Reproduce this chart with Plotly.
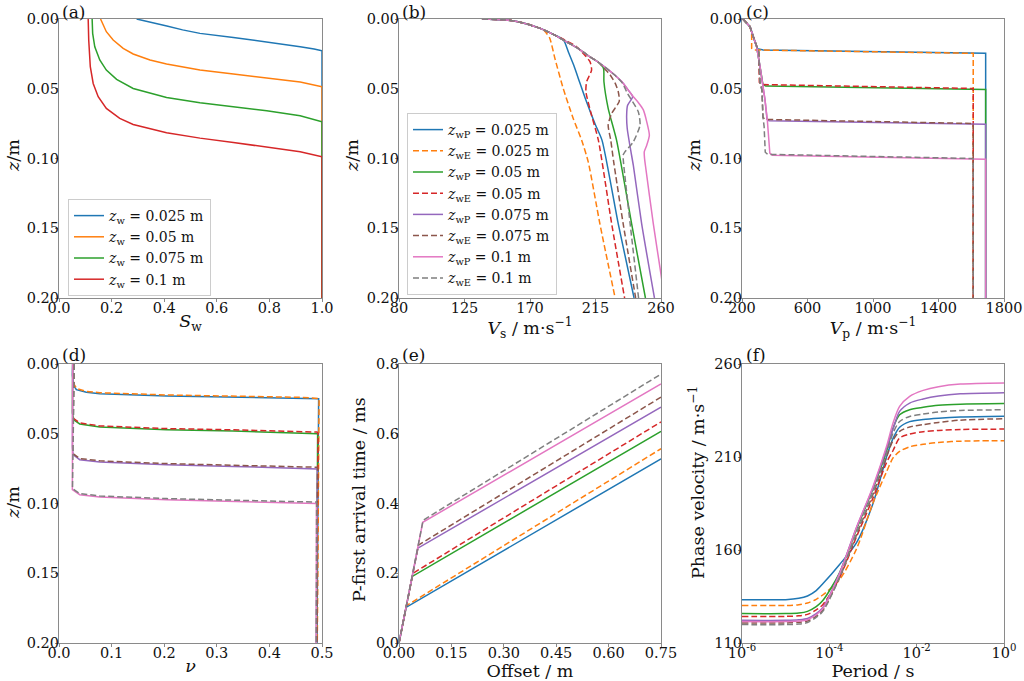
import plotly.graph_objects as go
from plotly.subplots import make_subplots

# ---- data ----
zw_labels = ['0.025', '0.05', '0.075', '0.1']

# (a) saturation profiles
a_sw_025 = [0.295, 0.35, 0.41, 0.47, 0.536, 0.663, 0.79, 0.917, 0.97, 1.0, 1.0]
a_z_025 = [0.0, 0.0022, 0.005, 0.0078, 0.0103, 0.0132, 0.0163, 0.0199, 0.0215, 0.0227, 0.2]
a_sw_050 = [0.158, 0.168, 0.18, 0.206, 0.244, 0.282, 0.346, 0.409, 0.536, 0.663, 0.79, 0.917, 1.0, 1.0]
a_z_050 = [0.0, 0.0043, 0.0091, 0.0151, 0.0211, 0.0251, 0.0294, 0.0323, 0.0366, 0.0395, 0.0421, 0.0452, 0.0486, 0.2]
a_sw_075 = [0.126, 0.128, 0.136, 0.155, 0.18, 0.219, 0.282, 0.409, 0.536, 0.663, 0.79, 0.917, 1.0, 1.0]
a_z_075 = [0.0, 0.0103, 0.0199, 0.0294, 0.0366, 0.0433, 0.0498, 0.0562, 0.06, 0.0629, 0.0658, 0.0694, 0.0737, 0.2]
a_sw_100 = [0.111, 0.113, 0.119, 0.13, 0.149, 0.18, 0.231, 0.282, 0.409, 0.536, 0.663, 0.79, 0.917, 1.0, 1.0]
a_z_100 = [0.0, 0.0151, 0.0342, 0.0462, 0.0557, 0.0641, 0.0713, 0.0756, 0.0816, 0.0854, 0.0885, 0.0916, 0.0952, 0.0988, 0.2]

# (b) Vs profiles
b_z_p025 = [0, 0.0005, 0.0012, 0.003, 0.0067, 0.011, 0.015, 0.024, 0.033, 0.045, 0.057, 0.076, 0.087, 0.1467, 0.2]
b_v_p025 = [137, 150, 158, 166, 177, 186, 193, 196.5, 200, 204, 208, 215, 219.5, 230.6, 241.5]
b_z_e025 = [0, 0.0005, 0.0012, 0.003, 0.0067, 0.0085, 0.0139, 0.0282, 0.0497, 0.0713, 0.0869, 0.1024, 0.1467, 0.2]
b_v_e025 = [137, 150, 158, 166, 177, 180, 183.6, 187.1, 192.8, 199.7, 205.5, 210, 218, 228.5]
b_z_p050 = [0, 0.0005, 0.0012, 0.003, 0.0067, 0.011, 0.0163, 0.021, 0.027, 0.031, 0.0354, 0.045, 0.064, 0.087, 0.1467, 0.2]
b_v_p050 = [137, 150, 158, 166, 177, 186, 195, 203, 211, 217, 220.5, 220.8, 223.7, 229.5, 239.8, 249.3]
b_z_e050 = [0, 0.0005, 0.0012, 0.003, 0.0067, 0.011, 0.0151, 0.0199, 0.0306, 0.0366, 0.045, 0.052, 0.069, 0.087, 0.1467, 0.2]
b_v_e050 = [137, 150, 158, 166, 177, 186, 194, 202, 211.2, 212.3, 208.9, 208.4, 212.3, 217, 226.1, 235]
b_z_p075 = [0, 0.0005, 0.0012, 0.003, 0.0067, 0.011, 0.0163, 0.021, 0.027, 0.031, 0.0354, 0.040, 0.046, 0.051,
            0.0557, 0.062, 0.069, 0.0785, 0.093, 0.105, 0.1467, 0.2]
b_v_p075 = [137, 150, 158, 166, 177, 186, 195, 203, 211, 217, 222.6, 228, 234, 237.5,
            240.5, 237, 236.4, 236.8, 239, 241, 246.7, 255.5]
b_z_e075 = [0, 0.0005, 0.0012, 0.003, 0.0067, 0.011, 0.0163, 0.021, 0.027, 0.031, 0.036, 0.040, 0.046, 0.052,
            0.059, 0.0677, 0.076, 0.087, 0.1024, 0.1467, 0.2]
b_v_e075 = [137, 150, 158, 166, 177, 186, 195, 203, 211, 217, 221.5, 225, 228.5, 230.6,
            231.3, 226.1, 223.7, 225.5, 227.5, 234, 242.6]
b_z_p100 = [0, 0.0005, 0.0012, 0.003, 0.0067, 0.011, 0.0163, 0.021, 0.027, 0.031, 0.0354, 0.040, 0.046, 0.051,
            0.0557, 0.060, 0.065, 0.0737, 0.0833, 0.0905, 0.0952, 0.1, 0.105, 0.1467, 0.183, 0.2]
b_v_p100 = [137, 150, 158, 166, 177, 186, 195, 203, 211, 217, 222.6, 228, 234, 237.5,
            241, 244.5, 247.8, 250.2, 252, 250.2, 248.5, 248.7, 249.3, 254.7, 260, 262.3]
b_z_e100 = [0, 0.0005, 0.0012, 0.003, 0.0067, 0.011, 0.0163, 0.021, 0.027, 0.031, 0.0354, 0.040, 0.046,
            0.0534, 0.0665, 0.076, 0.088, 0.0952, 0.0976, 0.1024, 0.1467, 0.2]
b_v_e100 = [137, 150, 158, 166, 177, 186, 195, 203, 211, 217, 222.6, 228, 233.5,
            237, 244.4, 245.6, 241, 235.2, 234, 234.2, 238.8, 244.6]

# (c) Vp profiles
c_z_p025 = [0, 0.0055, 0.0127, 0.0199, 0.0213, 0.0222, 0.0246, 0.2]
c_v_p025 = [205, 249, 269, 289.6, 294, 330, 1688, 1688]
c_z_e025 = [0, 0.0055, 0.0110, 0.0210, 0.0222, 0.0246, 0.2]
c_v_e025 = [205, 249, 259, 259, 275, 1612, 1612]
c_z_p050 = [0, 0.0055, 0.0127, 0.0199, 0.0342, 0.0470, 0.0481, 0.0505, 0.2]
c_v_p050 = [205, 249, 269, 289.6, 310, 328, 345, 1688, 1688]
c_z_e050 = [0, 0.0055, 0.0127, 0.0199, 0.0235, 0.0455, 0.0470, 0.0498, 0.2]
c_v_e050 = [205, 249, 269, 289.6, 302, 306, 322, 1612, 1612]
c_z_p075 = [0, 0.0055, 0.0127, 0.0199, 0.0342, 0.0486, 0.058, 0.0720, 0.0730, 0.0754, 0.2]
c_v_p075 = [205, 249, 269, 289.6, 310, 330, 340.5, 353, 365, 1688, 1688]
c_z_e075 = [0, 0.0055, 0.0127, 0.0199, 0.0235, 0.0455, 0.051, 0.0705, 0.0720, 0.0749, 0.2]
c_v_e075 = [205, 249, 269, 289.6, 302, 310, 322, 328, 342, 1612, 1612]
c_z_p100 = [0, 0.0055, 0.0127, 0.0199, 0.0342, 0.0486, 0.058, 0.0725, 0.0868, 0.0962, 0.0976, 0.1005, 0.2]
c_v_p100 = [205, 249, 269, 289.6, 310, 330, 340.5, 354.7, 363, 370, 385, 1688, 1688]
c_z_e100 = [0, 0.0055, 0.0127, 0.0199, 0.0235, 0.0455, 0.051, 0.0705, 0.0770, 0.0955, 0.0970, 0.1000, 0.2]
c_v_e100 = [205, 249, 269, 289.6, 302, 310, 322, 328, 335, 342, 356, 1612, 1612]

# (d) Poisson's ratio profiles
d_z_p025 = [0, 0.008, 0.0155, 0.0184, 0.0203, 0.0213, 0.0229, 0.0237, 0.0244, 0.0249, 0.2]
d_v_p025 = [0.026, 0.0255, 0.028, 0.033, 0.052, 0.0775, 0.2046, 0.3316, 0.4587, 0.4936, 0.4905]
d_z_e025 = [0, 0.008, 0.0148, 0.0177, 0.0196, 0.0206, 0.0222, 0.0231, 0.0239, 0.0247, 0.2]
d_v_e025 = [0.029, 0.027, 0.029, 0.034, 0.052, 0.0775, 0.2046, 0.3316, 0.4587, 0.4945, 0.4910]
d_z_p050 = [0, 0.02, 0.035, 0.040, 0.043, 0.0452, 0.0471, 0.048, 0.0495, 0.0500, 0.2]
d_v_p050 = [0.026, 0.0255, 0.0255, 0.028, 0.0394, 0.0775, 0.2046, 0.3316, 0.4905, 0.4917, 0.4895]
d_z_e050 = [0, 0.02, 0.034, 0.0392, 0.0422, 0.0444, 0.0463, 0.0472, 0.0488, 0.0497, 0.2]
d_v_e050 = [0.029, 0.027, 0.026, 0.028, 0.0394, 0.0775, 0.2046, 0.3316, 0.4905, 0.4925, 0.4900]
d_z_p075 = [0, 0.03, 0.06, 0.065, 0.0686, 0.0702, 0.0722, 0.0734, 0.0748, 0.0752, 0.2]
d_v_p075 = [0.026, 0.0255, 0.0255, 0.0267, 0.0394, 0.0775, 0.2046, 0.3316, 0.4905, 0.491, 0.4893]
d_z_e075 = [0, 0.03, 0.059, 0.0642, 0.0678, 0.0694, 0.0714, 0.0726, 0.0740, 0.0749, 0.2]
d_v_e075 = [0.029, 0.027, 0.026, 0.0267, 0.0394, 0.0775, 0.2046, 0.3316, 0.4905, 0.4915, 0.4897]
d_z_p100 = [0, 0.04, 0.085, 0.0901, 0.0937, 0.0954, 0.0973, 0.0985, 0.0996, 0.1, 0.2]
d_v_p100 = [0.026, 0.0255, 0.0254, 0.0254, 0.0394, 0.0775, 0.2046, 0.3316, 0.489, 0.4895, 0.489]
d_z_e100 = [0, 0.04, 0.084, 0.0893, 0.0929, 0.0946, 0.0965, 0.0977, 0.0990, 0.0998, 0.2]
d_v_e100 = [0.029, 0.027, 0.026, 0.0256, 0.0394, 0.0775, 0.2046, 0.3316, 0.489, 0.4898, 0.4891]

# (e) first arrival times: offset (m) / time (ms)
e_x_p025 = [0, 0.020, 0.75]
e_t_p025 = [0, 0.102, 0.528]
e_x_e025 = [0, 0.021, 0.75]
e_t_e025 = [0, 0.107, 0.557]
e_x_p050 = [0, 0.038, 0.75]
e_t_p050 = [0, 0.191, 0.607]
e_x_e050 = [0, 0.040, 0.75]
e_t_e050 = [0, 0.200, 0.634]
e_x_p075 = [0, 0.054, 0.75]
e_t_p075 = [0, 0.272, 0.676]
e_x_e075 = [0, 0.056, 0.75]
e_t_e075 = [0, 0.281, 0.705]
e_x_p100 = [0, 0.068, 0.75]
e_t_p100 = [0, 0.346, 0.743]
e_x_e100 = [0, 0.069, 0.75]
e_t_e100 = [0, 0.352, 0.771]

# (f) dispersion curves
f_period = [1e-6, 1e-5, 2e-5, 3.16e-5, 5e-5, 7.08e-5, 1.70e-4, 4.17e-4, 1e-3, 2.04e-3, 2.88e-3,
            4.07e-3, 6.92e-3, 1.41e-2, 3.16e-2, 1e-1, 1.0]
f_v_p025 = [133.3, 133.3, 134.0, 135.3, 138.2, 141.8, 152.1, 163.8, 185, 210, 220, 226, 229, 230.2, 230.9, 231.5, 231.9]
f_v_e025 = [130.2, 130.2, 130.6, 131.5, 133.5, 135.8, 144, 160.5, 185.3, 202, 209.5, 213, 215.5, 216.8, 217.8, 218.5, 218.8]
f_v_p050 = [125.8, 125.8, 126.1, 127, 129.5, 132.8, 147.6, 171, 193, 213, 225.6, 232.7, 235.4, 236.7, 237.8, 238.4, 238.7]
f_v_e050 = [124.3, 124.3, 124.6, 125.4, 127.8, 130.6, 145, 167, 188, 207, 213.5, 220.2, 222.3, 223.6, 224.3, 224.8, 225]
f_v_p075 = [122.2, 122.2, 122.5, 123.2, 125.8, 129, 147.3, 172, 193.5, 214.5, 225, 234.5, 239, 241.2, 242.8, 244, 244.6]
f_v_e075 = [120.8, 120.8, 121.1, 121.8, 124.4, 127.6, 145, 168, 190, 210, 219, 223.8, 226.1, 227.4, 228.6, 229.8, 230.6]
f_v_p100 = [121.5, 121.5, 121.8, 122.5, 125.2, 128.5, 147, 172, 194.2, 215.7, 228.3, 237.2, 242.6, 245.8, 247.8, 249.2, 249.8]
f_v_e100 = [119.9, 119.9, 120.2, 121, 123.8, 127, 145, 169, 191, 212, 222.9, 229.1, 231.8, 233.1, 234.2, 235, 235.4]

# ---- styling ----
colors = ['#1f77b4', '#ff7f0e', '#2ca02c', '#d62728', '#9467bd', '#8c564b', '#e377c2', '#7f7f7f']
FONT = 'DejaVu Serif'
DASH = '6px,3px'
LW = 1.5
FRAME = '#8a8a8a'
W, H = 1024, 681


def px(p):
    return p / W


def py(p):
    return 1 - p / H


fig = make_subplots(rows=2, cols=3)

# (a)
a_x = [a_sw_025, a_sw_050, a_sw_075, a_sw_100]
a_y = [a_z_025, a_z_050, a_z_075, a_z_100]
for i in range(4):
    fig.add_trace(go.Scatter(
        x=a_x[i], y=a_y[i], mode='lines',
        name='<i>z</i><sub>w</sub> = %s m' % zw_labels[i],
        line=dict(color=colors[i], width=LW),
        legend='legend',
    ), row=1, col=1)

# 8-curve panels share colour/dash order: P 0.025, E 0.025, P 0.05, E 0.05, ...
b_x = [b_v_p025, b_v_e025, b_v_p050, b_v_e050, b_v_p075, b_v_e075, b_v_p100, b_v_e100]
b_y = [b_z_p025, b_z_e025, b_z_p050, b_z_e050, b_z_p075, b_z_e075, b_z_p100, b_z_e100]
c_x = [c_v_p025, c_v_e025, c_v_p050, c_v_e050, c_v_p075, c_v_e075, c_v_p100, c_v_e100]
c_y = [c_z_p025, c_z_e025, c_z_p050, c_z_e050, c_z_p075, c_z_e075, c_z_p100, c_z_e100]
d_x = [d_v_p025, d_v_e025, d_v_p050, d_v_e050, d_v_p075, d_v_e075, d_v_p100, d_v_e100]
d_y = [d_z_p025, d_z_e025, d_z_p050, d_z_e050, d_z_p075, d_z_e075, d_z_p100, d_z_e100]
e_x = [e_x_p025, e_x_e025, e_x_p050, e_x_e050, e_x_p075, e_x_e075, e_x_p100, e_x_e100]
e_y = [e_t_p025, e_t_e025, e_t_p050, e_t_e050, e_t_p075, e_t_e075, e_t_p100, e_t_e100]
f_y = [f_v_p025, f_v_e025, f_v_p050, f_v_e050, f_v_p075, f_v_e075, f_v_p100, f_v_e100]

for i in range(8):
    kind = 'wP' if i % 2 == 0 else 'wE'
    dash = 'solid' if i % 2 == 0 else DASH
    name = '<i>z</i><sub>%s</sub> = %s m' % (kind, zw_labels[i // 2])
    ln = dict(color=colors[i], width=LW, dash=dash)
    fig.add_trace(go.Scatter(x=b_x[i], y=b_y[i], mode='lines', name=name, line=dict(ln, shape='spline', smoothing=0.6),
                             legend='legend2'), row=1, col=2)
    fig.add_trace(go.Scatter(x=c_x[i], y=c_y[i], mode='lines', line=ln, showlegend=False), row=1, col=3)
    fig.add_trace(go.Scatter(x=d_x[i], y=d_y[i], mode='lines', line=ln, showlegend=False), row=2, col=1)
    fig.add_trace(go.Scatter(x=e_x[i], y=e_y[i], mode='lines', line=ln, showlegend=False), row=2, col=2)
    fig.add_trace(go.Scatter(x=f_period, y=f_y[i], mode='lines', line=dict(ln, shape='spline', smoothing=0.8),
                             showlegend=False), row=2, col=3)

# axes
ax_common = dict(showline=True, mirror=True, linecolor=FRAME, linewidth=1.2, ticks='outside',
                 ticklen=3, tickcolor=FRAME, showgrid=False, zeroline=False, automargin=False,
                 tickfont=dict(family=FONT, size=14.5, color='#111'),
                 title_font=dict(family=FONT, size=17.5, color='#111'))
xa = dict(ax_common, ticklabelstandoff=-7)
ya = dict(ax_common, ticklabelstandoff=-7)

colx = [[px(59), px(322)], [px(399), px(661)], [px(742), px(1004)]]
rowy = [[py(298), py(19)], [py(643), py(364)]]

z_ticks = dict(range=[0.2, 0], tickvals=[0, 0.05, 0.1, 0.15, 0.2],
               ticktext=['0.00', '0.05', '0.10', '0.15', '0.20'])
XS = 0

fig.update_layout(
    xaxis=dict(xa, domain=colx[0], range=[0, 1], tickvals=[0, 0.2, 0.4, 0.6, 0.8, 1.0],
               ticktext=['0.0', '0.2', '0.4', '0.6', '0.8', '1.0'],
               title=dict(text='<i>S</i><sub>w</sub>', standoff=XS)),
    yaxis=dict(ya, domain=rowy[0], **z_ticks),
    xaxis2=dict(xa, domain=colx[1], range=[80, 260], tickvals=[80, 125, 170, 215, 260],
                title=dict(text='<i>V</i><sub>s</sub> / m·s<sup>−1</sup>', standoff=XS)),
    yaxis2=dict(ya, domain=rowy[0], **z_ticks),
    xaxis3=dict(xa, domain=colx[2], range=[200, 1800], tickvals=[200, 600, 1000, 1400, 1800],
                title=dict(text='<i>V</i><sub>p</sub> / m·s<sup>−1</sup>', standoff=XS)),
    yaxis3=dict(ya, domain=rowy[0], **z_ticks),
    xaxis4=dict(xa, domain=colx[0], range=[0, 0.5], tickvals=[0, 0.1, 0.2, 0.3, 0.4, 0.5],
                ticktext=['0.0', '0.1', '0.2', '0.3', '0.4', '0.5'],
                title=dict(text='<i>ν</i>', standoff=XS)),
    yaxis4=dict(ya, domain=rowy[1], **z_ticks),
    xaxis5=dict(xa, domain=colx[1], range=[0, 0.75], tickvals=[0, 0.15, 0.3, 0.45, 0.6, 0.75],
                ticktext=['0.00', '0.15', '0.30', '0.45', '0.60', '0.75'],
                title=dict(text='Offset / m', standoff=XS)),
    yaxis5=dict(ya, domain=rowy[1], range=[0, 0.8], tickvals=[0, 0.2, 0.4, 0.6, 0.8],
                ticktext=['0.0', '0.2', '0.4', '0.6', '0.8']),
    xaxis6=dict(xa, domain=colx[2], type='log', range=[-6, 0], tickvals=[1e-6, 1e-4, 1e-2, 1],
                ticktext=['10<sup>-6</sup>', '10<sup>-4</sup>', '10<sup>-2</sup>', '10<sup>0</sup>'],
                title=dict(text='Period / s', standoff=XS)),
    yaxis6=dict(ya, domain=rowy[1], range=[110, 260], tickvals=[110, 160, 210, 260]),
)

# y-axis titles placed at the reference positions
ytitles = [('<i>z</i>/m', 13, 156), ('<i>z</i>/m', 352, 156), ('<i>z</i>/m', 694, 156),
           ('<i>z</i>/m', 13, 503), ('P-first arrival time / ms', 359, 500),
           ('Phase velocity / m·s<sup>−1</sup>', 697, 483)]
for txt, tx, ty in ytitles:
    fig.add_annotation(text=txt, xref='paper', yref='paper', x=px(tx), y=py(ty),
                       xanchor='center', yanchor='middle', textangle=-90, showarrow=False,
                       font=dict(family=FONT, size=17.5, color='#111'))

legend_style = dict(font=dict(family=FONT, size=14, color='#111'), bgcolor='rgba(255,255,255,0.8)',
                    bordercolor='#cccccc', borderwidth=1, xanchor='left', yanchor='top',
                    tracegroupgap=0, itemwidth=30)
fig.update_layout(
    width=W, height=H,
    margin=dict(l=0, r=0, t=0, b=0, autoexpand=False),
    paper_bgcolor='white', plot_bgcolor='white',
    font=dict(family=FONT, size=15, color='#111'),
    legend=dict(legend_style, x=px(68), y=py(199)),
    legend2=dict(legend_style, x=px(407), y=py(113)),
)

# panel letters
panel_pos = [(60, 12), (400, 12), (744, 12), (60, 355), (400, 355), (744, 355)]
for lab, (lx, ly) in zip(['(a)', '(b)', '(c)', '(d)', '(e)', '(f)'], panel_pos):
    fig.add_annotation(text=lab, xref='paper', yref='paper', x=px(lx), y=py(ly),
                       xanchor='left', yanchor='middle', showarrow=False,
                       font=dict(family=FONT, size=17, color='#111'))

# drop the default page margin so the figure fills the window exactly
fig.write_html('out.html', config={'displayModeBar': False},
               post_script="document.body.style.margin='0';document.body.style.overflow='hidden';")
